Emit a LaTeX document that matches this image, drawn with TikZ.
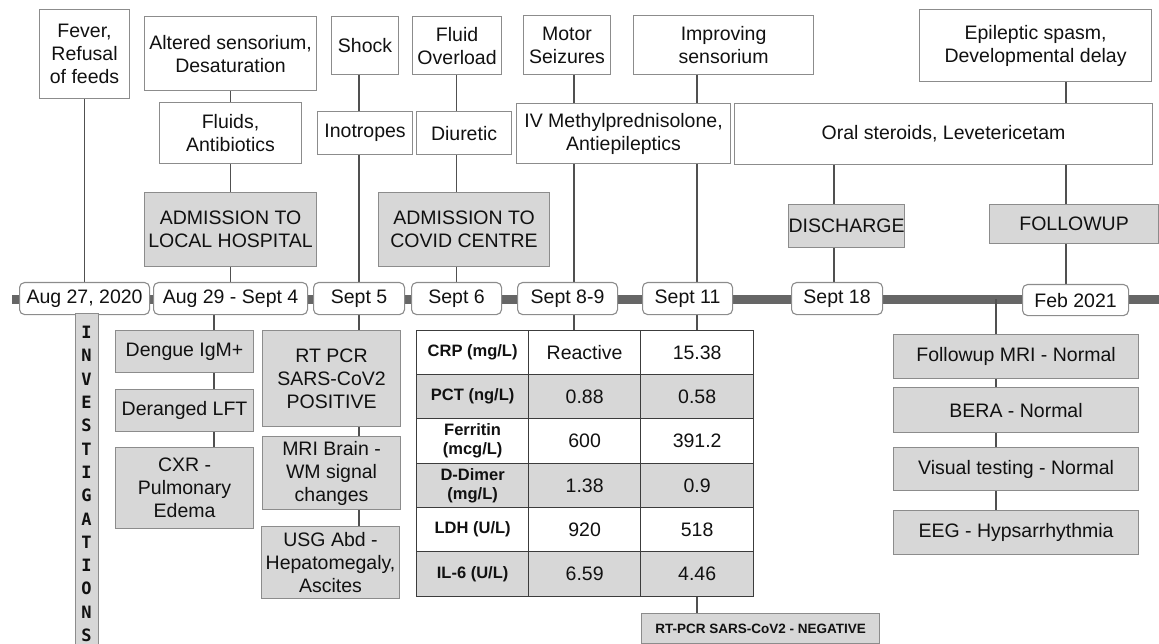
\documentclass[tikz,border=0pt]{standalone}
\usepackage{fontspec}
\setmainfont{Liberation Sans}
\newfontfamily\invfont{DejaVu Sans Mono}[BoldFont={DejaVu Sans Mono Bold}]
\usetikzlibrary{backgrounds}
\definecolor{boxgray}{HTML}{D7D7D7}
\definecolor{edgegray}{HTML}{8C8C8C}
\definecolor{linegray}{HTML}{505050}
\definecolor{bargray}{HTML}{666666}
\definecolor{tabedge}{HTML}{3C3C3C}
\definecolor{txt}{HTML}{111111}
\newcommand\mainfs{\fontsize{19.5}{23}\selectfont}
\newcommand\labfs{\fontsize{16.5}{19}\selectfont\bfseries}
\newcommand\bx[7]{\node[#1, minimum width={(#5-#3)*1pt}, minimum height={(#6-#4)*1pt}] (#2) at (#3,#4) {#7};}
\tikzset{
  base/.style={draw=edgegray, line width=1.1pt, anchor=north west, inner sep=0pt, align=center, text=txt, font=\mainfs},
  wbox/.style={base, fill=white},
  gbox/.style={base, fill=boxgray},
  negbox/.style={gbox, font=\fontsize{13.5}{16}\selectfont\bfseries},
  datebox/.style={base, fill=white, rounded corners=5pt},
  tw/.style={base, draw=tabedge, line width=1.3pt, fill=white},
  tg/.style={base, draw=tabedge, line width=1.3pt, fill=boxgray},
  twl/.style={tw, font=\labfs},
  tgl/.style={tg, font=\labfs},
  conn/.style={draw=linegray, line width=1.3pt},
  timebar/.style={draw=bargray, line width=9pt}
}
\begin{document}
\begin{tikzpicture}[x=1pt,y=-1pt]
\useasboundingbox (0,0) rectangle (1159,644);
% top boxes
\bx{wbox}{fever}{39}{9}{129}{98}{Fever,\\Refusal\\of feeds}
\bx{wbox}{altered}{144}{16}{316}{90}{Altered sensorium,\\Desaturation}
\bx{wbox}{fluids}{159}{102}{301}{163}{Fluids,\\Antibiotics}
\bx{gbox}{admloc}{144}{192}{316}{266}{ADMISSION TO\\LOCAL HOSPITAL}
\bx{wbox}{shock}{331}{16}{398}{74}{Shock}
\bx{wbox}{inotropes}{317}{111}{412}{154}{Inotropes}
\bx{wbox}{fluidov}{412}{16}{501}{74}{Fluid\\Overload}
\bx{wbox}{diuretic}{416}{111}{511}{154}{Diuretic}
\bx{gbox}{admcov}{378}{192}{549}{266}{ADMISSION TO\\COVID CENTRE}
\bx{wbox}{motor}{523}{15}{610}{74}{Motor\\Seizures}
\bx{wbox}{ivmp}{516}{103}{730}{163}{IV Methylprednisolone,\\Antiepileptics}
\bx{wbox}{improving}{633}{15}{813}{74}{Improving\\sensorium}
\bx{wbox}{oral}{734}{103}{1152}{164}{Oral steroids, Levetericetam}
\bx{wbox}{epileptic}{919}{9}{1151}{81}{Epileptic spasm,\\Developmental delay}
\bx{gbox}{discharge}{788}{204}{904}{247}{DISCHARGE}
\bx{gbox}{followup}{989}{204}{1158}{243}{FOLLOWUP}
% dates
\bx{datebox}{d1}{19}{282}{149}{314}{Aug 27, 2020}
\bx{datebox}{d2}{153}{282}{307}{314}{Aug 29 - Sept 4}
\bx{datebox}{d3}{313}{282}{404}{314}{Sept 5}
\bx{datebox}{d4}{411}{282}{501}{314}{Sept 6}
\bx{datebox}{d5}{517}{282}{617}{314}{Sept 8-9}
\bx{datebox}{d6}{642}{282}{732}{314}{Sept 11}
\bx{datebox}{d7}{791}{282}{882}{314}{Sept 18}
\bx{datebox}{d8}{1022}{284}{1128}{315}{Feb 2021}
% investigations column
\bx{gbox}{inv}{75}{313}{98}{646}{}
\node[text=txt, font={\invfont\bfseries\fontsize{17}{23.3}\selectfont}, align=center, inner sep=0pt] (invtxt) at (86.5,484) {I\\N\\V\\E\\S\\T\\I\\G\\A\\T\\I\\O\\N\\S};
\bx{gbox}{dengue}{115}{330}{253}{372}{Dengue IgM+}
\bx{gbox}{lft}{115}{389}{253}{431}{Deranged LFT}
\bx{gbox}{cxr}{115}{447}{253}{528}{CXR -\\Pulmonary\\Edema}
\bx{gbox}{rtpcr}{262}{330}{400}{426}{RT PCR\\SARS-CoV2\\POSITIVE}
\bx{gbox}{mri}{262}{436}{400}{509}{MRI Brain -\\WM signal\\changes}
\bx{gbox}{usg}{261}{526}{399}{598}{USG Abd -\\Hepatomegaly,\\Ascites}
% table
\bx{twl}{r1a}{416}{330}{528}{374}{CRP (mg/L)}
\bx{tw}{r1b}{528}{330}{640}{374}{Reactive}
\bx{tw}{r1c}{640}{330}{753}{374}{15.38}
\bx{tgl}{r2a}{416}{374}{528}{418}{PCT (ng/L)}
\bx{tg}{r2b}{528}{374}{640}{418}{0.88}
\bx{tg}{r2c}{640}{374}{753}{418}{0.58}
\bx{twl}{r3a}{416}{418}{528}{463}{Ferritin\\(mcg/L)}
\bx{tw}{r3b}{528}{418}{640}{463}{600}
\bx{tw}{r3c}{640}{418}{753}{463}{391.2}
\bx{tgl}{r4a}{416}{463}{528}{507}{D-Dimer\\(mg/L)}
\bx{tg}{r4b}{528}{463}{640}{507}{1.38}
\bx{tg}{r4c}{640}{463}{753}{507}{0.9}
\bx{twl}{r5a}{416}{507}{528}{551}{LDH (U/L)}
\bx{tw}{r5b}{528}{507}{640}{551}{920}
\bx{tw}{r5c}{640}{507}{753}{551}{518}
\bx{tgl}{r6a}{416}{551}{528}{596}{IL-6 (U/L)}
\bx{tg}{r6b}{528}{551}{640}{596}{6.59}
\bx{tg}{r6c}{640}{551}{753}{596}{4.46}
\bx{negbox}{neg}{641}{613}{879}{643}{RT-PCR SARS-CoV2 - NEGATIVE}
% followup investigations
\bx{gbox}{fmri}{893}{334}{1138}{378}{Followup MRI - Normal}
\bx{gbox}{bera}{893}{387}{1138}{432}{BERA - Normal}
\bx{gbox}{visual}{893}{447}{1138}{490}{Visual testing - Normal}
\bx{gbox}{eeg}{893}{510}{1138}{554}{EEG - Hypsarrhythmia}
% helper coordinates
\coordinate (barL) at (12,299.5);
\coordinate (barR) at (1159,299.5);
\coordinate (x2b) at (214,0);
\coordinate (x5) at (574,0);
\coordinate (x6) at (697,0);
\coordinate (x7) at (834,0);
\coordinate (x8) at (1066,0);
\coordinate (x9) at (996,0);
\begin{pgfonlayer}{background}
\draw[timebar] (barL) -- (barR);
\draw[conn] (fever.south) -- (d1.north);
\draw[conn] (altered.south) -- (d2.north);
\draw[conn] (shock.south -| d3) -- (d3.north);
\draw[conn] (fluidov.south -| d4) -- (d4.north);
\draw[conn] (motor.south -| x5) -- (d5.north -| x5);
\draw[conn] (improving.south -| x6) -- (d6.north -| x6);
\draw[conn] (oral.south -| x7) -- (d7.north -| x7);
\draw[conn] (epileptic.south -| x8) -- (d8.north -| x8);
\draw[conn] (d2.south -| x2b) -- (cxr.north -| x2b);
\draw[conn] (d3.south) -- (usg.north -| d3);
\draw[conn] (d5.south -| x5) -- (r1b.north -| x5);
\draw[conn] (d6.south -| x6) -- (r1c.north -| x6);
\draw[conn] (r6c.south -| x6) -- (neg.north -| x6);
\draw[conn] (barR -| x9) -- (eeg.north -| x9);
\end{pgfonlayer}
\end{tikzpicture}
\end{document}
